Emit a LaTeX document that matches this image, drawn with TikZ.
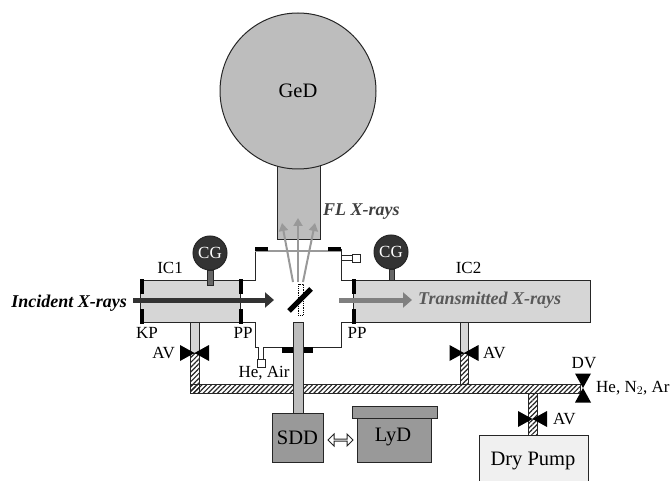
\documentclass[tikz,border=0pt]{standalone}
\usepackage{fontspec}
\setmainfont{Liberation Serif}
\usetikzlibrary{positioning, arrows.meta, patterns.meta, shapes.arrows}

\definecolor{darkgas}{gray}{0.2}
\definecolor{ionfill}{gray}{0.84}
\definecolor{detfill}{gray}{0.74}
\definecolor{boxfill}{gray}{0.6}
\definecolor{pumpfill}{gray}{0.94}

\tikzset{
  part/.style={draw=black!85, line width=1pt, inner sep=0pt, outer sep=0pt},
  tag/.style={inner sep=0pt, font=\fontsize{17}{17}\selectfont},
  bigtag/.style={inner sep=0pt, font=\fontsize{20.5}{20.5}\selectfont},
  raylabel/.style={inner sep=0pt, font=\fontsize{18}{18}\selectfont\bfseries\itshape},
  gastube/.style={part, pattern={Lines[angle=45, distance=3.4pt, line width=1.2pt]}, pattern color=black!85},
  flange/.style={line width=4.5pt, black},
  wall/.style={line width=1pt, black!85},
  gauge/.style={circle, part, fill=darkgas, minimum size=34pt, text=white, font=\fontsize{17}{17}\selectfont},
  beam/.style={line width=5pt, -{Triangle[length=9pt,width=15pt]}},
  flray/.style={line width=2pt, boxfill, -{Triangle[length=8pt,width=9pt]}},
  swap/.style={double arrow, part, fill=white, minimum width=12pt, minimum height=25pt, double arrow head extend=2.5pt},
  valve/.pic={\fill[black] (-14.5,-8) -- (14.5,8) -- (14.5,-8) -- (-14.5,8) -- cycle;}
}

\begin{document}
\begin{tikzpicture}[x=1pt, y=-1pt]
  \useasboundingbox (0,0) rectangle (672,481);

  % detector head
  \node[part, fill=detfill, minimum width=43pt, minimum height=75pt] (neck) at (298.5,202.5) {};
  \node[circle, part, fill=detfill, minimum size=156pt] (ged) at (298,91) {};
  \node[bigtag] at (ged) {GeD};

  % gas lines
  \path[gastube] (190,353) rectangle (199,393);
  \path[gastube] (460,353) rectangle (468,384);
  \path[gastube] (528,393) rectangle (537,435);
  \path[gastube] (190,384) rectangle (580,393);
  \path[part, fill=ionfill] (190,322) rectangle (199,353);
  \path[part, fill=ionfill] (460,322) rectangle (468,353);

  % ion chambers
  \node[part, fill=ionfill, minimum width=100pt, minimum height=42pt] (ic1) at (190,301) {};
  \node[part, fill=ionfill, minimum width=237pt, minimum height=42pt] (ic2) at (471.5,301) {};
  \node[tag, above=6pt of ic1.north, xshift=-20pt] (ic1label) {IC1};
  \node[tag, above=6pt of ic2.north, xshift=-3pt] (ic2label) {IC2};

  % chamber walls
  \coordinate (nw) at (255,249);
  \coordinate (ne) at (341,249);
  \coordinate (sw) at (255,347);
  \coordinate (se) at (341,347);
  \draw[wall] (ic1.north east) -- (255,280) -- (nw);
  \draw[wall] (ic2.north west) -- (341,280) -- (ne);
  \draw[wall] (ic1.south east) -- (255,322) -- (sw) -- (258,347);
  \draw[wall] (263,347) -- (se) -- (341,322) -- (ic2.south west);
  \draw[line width=1pt, boxfill] (nw) ++(0,2) -- (341,251);
  \draw[flange] (255,249) -- (268,249);
  \draw[flange] (328,249) -- (341,249);
  \draw[flange, line width=6pt] (282,350) -- (313,350);

  % gas ports
  \draw[wall] (258,347) -- (258,359);
  \draw[wall] (263,347) -- (263,359);
  \node[part, fill=white, minimum size=8pt] (port1) at (261,363) {};
  \draw[wall] (341,255) -- (352,255);
  \draw[wall] (341,260) -- (352,260);
  \node[part, fill=white, minimum size=8pt] (port2) at (356,258) {};

  % windows
  \foreach \wx/\wy in {142/286.5, 142/316.5, 241/286.5, 241/316.5, 354/286.5, 354/316.5}
    \draw[line width=4.5pt, black] (\wx,\wy-7.5) -- (\wx,\wy+7);

  % gauges
  \node[gauge] (cg1) at (210,253) {CG};
  \node[gauge] (cg2) at (391,252) {CG};
  \draw[line width=1pt, draw=black!85, fill=black!60] (207,270) rectangle (213,285);
  \draw[line width=1pt, draw=black!85, fill=black!60] (389,269) rectangle (394,280);

  % sample
  \node[draw, densely dotted, line width=0.8pt, inner sep=0pt, minimum width=5pt, minimum height=31pt] (foil) at (300.5,299.5) {};
  \draw[line width=5pt, black] (289,311) -- (311,289);

  % beams
  \draw[beam, darkgas] (133,300) -- (274,300);
  \draw[beam, black!50] (339,300) -- (412,300);
  \node[raylabel, left=13pt of ic1.west, yshift=-2pt] (incident) {Incident X-rays};
  \node[raylabel, text=black!65, anchor=west] (transmitted) at (418,300) {Transmitted X-rays};

  % fluorescence
  \coordinate (src1) at (293,282);
  \coordinate (src2) at (298,282);
  \coordinate (src3) at (303,282);
  \draw[flray] (src1) -- (282,223);
  \draw[flray] (src2) -- (298,218);
  \draw[flray] (src3) -- (315,223);
  \node[raylabel, text=black!75, anchor=west] (fl) at (323,212) {FL X-rays};

  % SDD and LyD
  \draw[part, fill=detfill] (293,322) rectangle (303,413);
  \node[part, fill=boxfill, minimum width=51pt, minimum height=49pt] (sdd) at (297.5,437.5) {};
  \node[bigtag] at (sdd) {SDD};
  \node[part, fill=boxfill, minimum width=74pt, minimum height=44pt] (lyd) at (394,440) {};
  \node[part, fill=boxfill, minimum width=85pt, minimum height=12pt] (lid) at (394.5,412) {};
  \node[bigtag] at (393,437) {LyD};
  \node[swap] (swaparrow) at (340.5,440) {};

  % pump
  \node[part, fill=pumpfill, minimum width=109pt, minimum height=60pt] (pump) at (533.5,465) {};
  \node[bigtag] at (533,461) {Dry Pump};

  % valves
  \path (194.5,353) pic {valve};
  \path (464,353) pic {valve};
  \path (532.5,419) pic {valve};
  \path (583,388) pic[rotate=90] {valve};

  % labels
  \node[tag] (kp) at (147,333) {KP};
  \node[tag] (pp1) at (243,333) {PP};
  \node[tag] (pp2) at (357,333) {PP};
  \node[tag, anchor=east] (av1) at (175,353) {AV};
  \node[tag, anchor=west] (av2) at (483,353) {AV};
  \node[tag, anchor=west] (av3) at (553,419) {AV};
  \node[tag] (dv) at (584,363) {DV};
  \node[tag, anchor=west] (gases) at (596,388) {He, N$_2$, Ar};
  \node[tag] (air) at (264,373) {He, Air};
\end{tikzpicture}
\end{document}
